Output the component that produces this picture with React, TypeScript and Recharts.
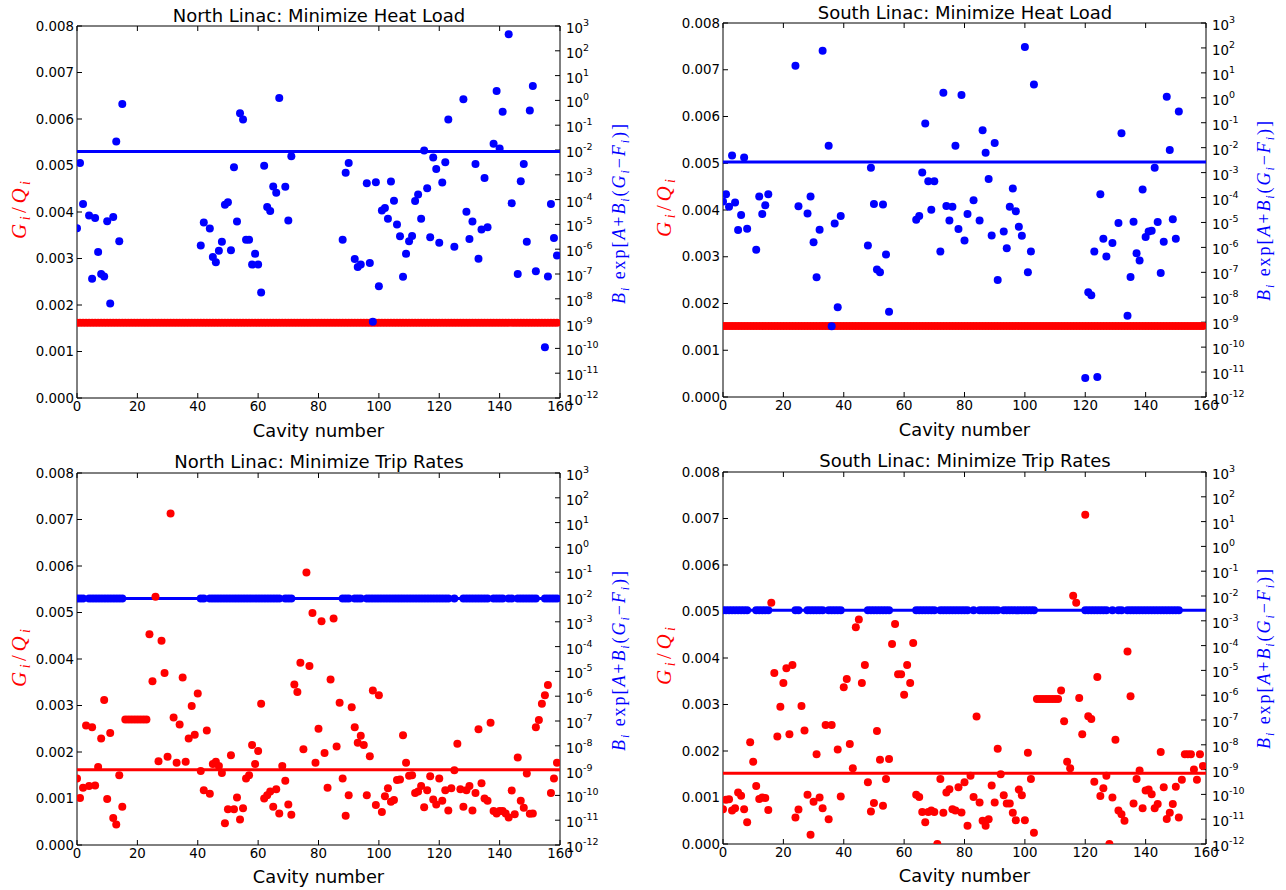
import React from 'react';
import { ComposedChart, Scatter, XAxis, YAxis } from 'recharts';

// ---------- categories & ticks ----------
const CAVITY = [
  0, 1, 2, 3, 4, 5, 6, 7, 8, 9, 10, 11, 12, 13, 14, 15, 16, 17, 18, 19,
  20, 21, 22, 23, 24, 25, 26, 27, 28, 29, 30, 31, 32, 33, 34, 35, 36, 37, 38, 39,
  40, 41, 42, 43, 44, 45, 46, 47, 48, 49, 50, 51, 52, 53, 54, 55, 56, 57, 58, 59,
  60, 61, 62, 63, 64, 65, 66, 67, 68, 69, 70, 71, 72, 73, 74, 75, 76, 77, 78, 79,
  80, 81, 82, 83, 84, 85, 86, 87, 88, 89, 90, 91, 92, 93, 94, 95, 96, 97, 98, 99,
  100, 101, 102, 103, 104, 105, 106, 107, 108, 109, 110, 111, 112, 113, 114, 115, 116, 117, 118, 119,
  120, 121, 122, 123, 124, 125, 126, 127, 128, 129, 130, 131, 132, 133, 134, 135, 136, 137, 138, 139,
  140, 141, 142, 143, 144, 145, 146, 147, 148, 149, 150, 151, 152, 153, 154, 155, 156, 157, 158, 159,
];
const X_TICKS = [0, 20, 40, 60, 80, 100, 120, 140, 160];
const GQ_TICKS = [0, 0.001, 0.002, 0.003, 0.004, 0.005, 0.006, 0.007, 0.008];
const LOG_TICKS = [1e-12, 1e-11, 1e-10, 1e-9, 1e-8, 1e-7, 1e-6, 1e-5, 1e-4, 1e-3, 1e-2, 1e-1, 1, 1e1, 1e2, 1e3];

// ---------- constants ----------
const NORTH_GQ = 0.00162;
const SOUTH_GQ = 0.00152;
const NORTH_THRESHOLD = 8.7e-3;
const SOUTH_THRESHOLD = 2.65e-3;

// ---------- North linac, minimize heat load (trip-rate term, right axis) ----------
const NORTH_HEAT_CAV = [
  0, 1, 2, 4, 5, 6, 7, 8, 9, 10, 11, 12, 13, 14, 15,
  41, 42, 44, 45, 46, 47, 48, 49, 50, 51, 52, 53, 54, 55, 56, 57, 58, 59, 60,
  61, 62, 63, 64, 65, 66, 67, 69, 70, 71,
  88, 89, 90, 92, 93, 94, 96, 97, 98, 99, 100, 101, 102, 103, 104, 105, 106, 107, 108, 109,
  110, 111, 112, 113, 114, 115, 116, 117, 118, 119, 120, 121, 122, 123, 125, 128, 129, 130, 131, 132,
  133, 134, 135, 136, 138, 139, 140, 141, 143, 144, 146, 147, 148, 149, 150, 151, 152, 155, 156, 157,
  158, 159,
];
const NORTH_HEAT_VAL = [
  7e-6, 3e-3, 6.6e-5, 2.3e-5, 6.5e-8, 1.8e-5, 7.7e-7, 1e-7, 8e-8, 1.35e-5, 6.4e-9, 2e-5, 2.2e-2, 2.1e-6, 0.72,
  1.4e-6, 1.2e-5, 6.9e-6, 4.8e-7, 3e-7, 8.7e-7, 2e-6, 6.2e-5, 7.8e-5, 9e-7, 2e-3, 1.3e-5, 0.3, 0.17, 2.4e-6, 2.4e-6, 2.4e-7, 6.5e-7, 2.4e-7,
  1.8e-8, 2.3e-3, 5e-5, 3.5e-5, 3.4e-4, 1.9e-4, 1.26, 3.3e-4, 1.45e-5, 5.6e-3,
  2.4e-6, 1.2e-3, 3e-3, 4e-7, 1.9e-7, 2.4e-7, 4.6e-4, 2.8e-7, 1.2e-9, 5e-4, 3.2e-8, 3.6e-5, 4.6e-5, 1.7e-5, 5.4e-4, 9e-5, 9.8e-6, 3.3e-6, 7.8e-8, 6.5e-7,
  2.1e-6, 3.4e-6, 8.7e-5, 1.6e-4, 1.7e-5, 9.5e-3, 2.9e-4, 3e-6, 5e-3, 1.7e-3, 1.8e-6, 4.9e-4, 3.2e-3, 0.17, 1.26e-6, 1.1, 3.2e-5, 2.6e-6, 1.3e-5, 2.7e-3,
  4.1e-7, 6.2e-6, 7.4e-4, 7.6e-6, 1.8e-2, 2.4, 1.15e-2, 0.35, 460, 7.2e-5, 1e-7, 5.5e-4, 2.7e-3, 2e-6, 0.39, 3.8, 1.3e-7, 1.1e-10, 8e-8, 6.7e-5,
  2.8e-6, 5.6e-7,
];

// ---------- South linac, minimize heat load ----------
const SOUTH_HEAT_CAV = [
  0, 1, 2, 3, 4, 5, 6, 7, 8, 11, 12, 13, 14, 15,
  24, 25, 28, 29, 30, 31, 32, 33, 35, 36, 37, 38, 39,
  48, 49, 50, 51, 52, 53, 54, 55,
  64, 65, 66, 67, 68, 69, 70, 72, 73, 74, 75, 76, 77, 78, 79, 80, 81, 83, 85, 86, 87, 88, 89, 90,
  91, 93, 94, 95, 96, 97, 98, 99, 100, 101, 102, 103,
  120, 121, 122, 123, 124, 125, 126, 127, 129, 131, 132, 134, 135, 136, 137, 138, 139, 140, 141, 142,
  143, 144, 145, 146, 147, 148, 149, 150, 151,
];
const SOUTH_HEAT_VAL = [
  6.9e-5, 1.35e-4, 4.3e-5, 4.8e-3, 6.3e-5, 5e-6, 2e-5, 4e-3, 5.6e-6, 8e-7, 1.1e-4, 2.2e-5, 4.9e-5, 1.35e-4,
  19.5, 4.5e-5, 2.3e-5, 1.1e-4, 1.6e-6, 6.3e-8, 5.1e-6, 77, 1.2e-2, 6.9e-10, 9e-6, 4e-9, 1.8e-5,
  1.2e-6, 1.55e-3, 5.5e-5, 1.3e-7, 1e-7, 5.2e-5, 5.2e-7, 2.6e-9,
  1.3e-5, 1.8e-5, 1e-3, 9.3e-2, 4.5e-4, 3.2e-5, 4.5e-4, 6.8e-7, 1.6, 4.6e-5, 1.2e-5, 4.3e-5, 1.2e-2, 5.5e-6, 1.3, 1.9e-6, 2.2e-5, 7.8e-5, 1.2e-5, 5e-2, 6.3e-3, 5.6e-4, 3e-6, 1.55e-2,
  4.9e-8, 4.3e-6, 9.3e-7, 4.3e-5, 2.3e-4, 2.8e-5, 6.8e-6, 2.9e-6, 110, 1e-7, 6.9e-7, 3.4,
  5.8e-12, 1.6e-8, 1.2e-8, 6.8e-7, 6.3e-12, 1.35e-4, 2.2e-6, 4.3e-7, 1.5e-6, 9.5e-6, 3.8e-2, 1.8e-9, 6.5e-8, 1.07e-5, 5.8e-7, 3e-7, 2.1e-4, 2.6e-6, 4.3e-6, 4.7e-6,
  1.55e-3, 1.05e-5, 9.5e-8, 1.7e-6, 1.1, 8.1e-3, 1.35e-5, 2.2e-6, 0.28,
];

// ---------- North linac, minimize trip rates (G/Q, left axis), one per cavity ----------
const NORTH_TRIP_GQ = [
  0.00143, 0.00101, 0.00123, 0.00257, 0.00127, 0.00253, 0.00128, 0.00168, 0.00229, 0.00312,
  0.00099, 0.00241, 0.00058, 0.00044, 0.00150, 0.00082, 0.00270, 0.00270, 0.00270, 0.00270,
  0.00270, 0.00270, 0.00270, 0.00270, 0.00453, 0.00352, 0.00534, 0.00180, 0.00439, 0.00370,
  0.00190, 0.00713, 0.00274, 0.00177, 0.00259, 0.00360, 0.00179, 0.00229, 0.00299, 0.00237,
  0.00326, 0.00159, 0.00118, 0.00246, 0.00110, 0.00174, 0.00179, 0.00170, 0.00155, 0.00047,
  0.00077, 0.00193, 0.00077, 0.00102, 0.00055, 0.00079, 0.00143, 0.00150, 0.00215, 0.00174,
  0.00202, 0.00304, 0.00100, 0.00107, 0.00115, 0.00082, 0.00120, 0.00068, 0.00170, 0.00138,
  0.00087, 0.00065, 0.00345, 0.00329, 0.00392, 0.00206, 0.00586, 0.00385, 0.00499, 0.00177,
  0.00250, 0.00481, 0.00198, 0.00123, 0.00356, 0.00487, 0.00212, 0.00306, 0.00143, 0.00063,
  0.00107, 0.00296, 0.00253, 0.00220, 0.00235, 0.00215, 0.00107, 0.00191, 0.00332, 0.00086,
  0.00322, 0.00071, 0.00105, 0.00122, 0.00093, 0.00097, 0.00140, 0.00141, 0.00236, 0.00177,
  0.00149, 0.00150, 0.00112, 0.00115, 0.00127, 0.00081, 0.00118, 0.00148, 0.00098, 0.00087,
  0.00143, 0.00095, 0.00118, 0.00074, 0.00122, 0.00161, 0.00218, 0.00120, 0.00082, 0.00118,
  0.00127, 0.00074, 0.00112, 0.00249, 0.00133, 0.00100, 0.00095, 0.00263, 0.00073, 0.00068,
  0.00073, 0.00073, 0.00068, 0.00059, 0.00117, 0.00066, 0.00188, 0.00095, 0.00080, 0.00154,
  0.00067, 0.00068, 0.00253, 0.00269, 0.00304, 0.00322, 0.00344, 0.00112, 0.00143, 0.00177,
];

// ---------- South linac, minimize trip rates (null = no marker visible) ----------
const SOUTH_TRIP_GQ = [
  0.00075, 0.00095, 0.00096, 0.00072, 0.00077, 0.00111, 0.00104, 0.00075, 0.00047, 0.00219,
  0.00177, 0.00125, 0.00097, 0.00100, 0.00099, 0.00073, 0.00519, 0.00368, 0.00231, 0.00295,
  0.00346, 0.00378, 0.00236, 0.00385, 0.00057, 0.00074, 0.00297, 0.00244, 0.00106, 0.00020,
  0.00091, 0.00193, 0.00100, 0.00077, 0.00256, 0.00053, 0.00256, null, 0.00203, 0.00102,
  0.00337, 0.00355, 0.00215, 0.00163, 0.00466, 0.00483, 0.00346, 0.00385, 0.00133, 0.00070,
  0.00088, 0.00243, 0.00181, 0.00082, 0.00140, 0.00183, 0.00430, 0.00473, 0.00365, 0.00365,
  0.00321, 0.00385, 0.00346, 0.00432, 0.00106, 0.00101, 0.00069, 0.00047, 0.00069, 0.00072,
  0.00069, 0.00000, 0.00140, 0.00067, 0.00111, 0.00118, 0.00075, 0.00072, 0.00122, 0.00068,
  0.00133, 0.00039, 0.00147, 0.00101, 0.00274, 0.00089, 0.00050, 0.00039, 0.00053, 0.00126,
  0.00089, 0.00205, 0.00150, 0.00105, 0.00087, 0.00087, 0.00067, 0.00051, 0.00117, 0.00105,
  0.00051, 0.00196, 0.00140, 0.00024, 0.00312, 0.00312, 0.00312, 0.00312, 0.00312, 0.00312,
  0.00312, 0.00312, 0.00330, 0.00264, 0.00177, 0.00163, 0.00534, 0.00519, 0.00314, 0.00236,
  0.00708, 0.00275, 0.00269, 0.00134, 0.00359, 0.00103, 0.00120, 0.00147, 0.00000, 0.00100,
  0.00224, 0.00072, 0.00064, 0.00050, 0.00414, 0.00318, 0.00087, 0.00140, 0.00158, 0.00077,
  0.00115, 0.00117, 0.00107, 0.00077, 0.00086, 0.00198, 0.00122, 0.00054, 0.00067, 0.00086,
  0.00123, 0.00057, 0.00138, 0.00193, 0.00193, 0.00193, 0.00160, 0.00138, 0.00193, 0.00168,
];

// ---------- styling ----------
const BLUE = '#0000ff';
const RED = '#ff0000';
const SANS = 'DejaVu Sans, sans-serif';
const SERIF = 'Liberation Serif, DejaVu Serif, serif';
const TICK_FS = 13.33;
const R = 4;

const dot = (color: string) => (p: any) =>
  p.cx == null || p.cy == null ? <g /> : <circle cx={p.cx} cy={p.cy} r={R} fill={color} />;
const noDot = () => <g />;

const LogTick = (props: any) => {
  const { x, y, payload } = props;
  const e = Math.round(Math.log10(payload.value));
  return (
    <text x={x} y={y} dy={7} fill="#000" fontSize={TICK_FS} fontFamily={SANS} textAnchor="start">
      10
      <tspan dy={-7} fontSize={9.5}>{String(e)}</tspan>
    </text>
  );
};

type PanelProps = {
  left: number;
  top: number;
  mt: number;
  mb: number;
  lw: number;
  rw: number;
  kind: 'heat' | 'trip';
  gq: number;
  threshold: number;
  blueCav: number[];
  blueVal?: number[];
  trip?: (number | null)[];
};

const W = 643;
const H = 445;

function Panel(p: PanelProps) {
  const lineX = [0, 160];
  const redBand = CAVITY.map((c) => ({ c, v: p.gq }));
  const blueBand = p.blueCav.map((c) => ({ c, v: p.threshold }));
  const blueLine = lineX.map((c) => ({ c, v: p.threshold }));
  const redLine = lineX.map((c) => ({ c, v: p.gq }));
  const bluePts = p.blueVal ? p.blueCav.map((c, i) => ({ c, v: p.blueVal![i] })) : [];
  const redPts = p.trip
    ? CAVITY.map((c, i) => ({ c, v: p.trip![i] })).filter((d) => d.v != null)
    : [];

  return (
    <div style={{ position: 'absolute', left: p.left, top: p.top, width: W, height: H }}>
      <ComposedChart width={W} height={H} margin={{ top: p.mt, right: 0, bottom: p.mb, left: 0 }}>
        <XAxis
          xAxisId="b"
          dataKey="c"
          type="number"
          domain={[0, 160]}
          ticks={X_TICKS}
          interval={0}
          allowDataOverflow
          height={30}
          tickSize={-5}
          tickMargin={9}
          axisLine={{ stroke: '#000' }}
          tickLine={{ stroke: '#000' }}
          tick={{ fill: '#000', fontSize: TICK_FS, fontFamily: SANS }}
        />
        <XAxis
          xAxisId="t"
          orientation="top"
          dataKey="c"
          type="number"
          domain={[0, 160]}
          ticks={X_TICKS}
          interval={0}
          allowDataOverflow
          height={1}
          tickSize={-5}
          tickFormatter={() => ''}
          axisLine={{ stroke: '#000' }}
          tickLine={{ stroke: '#000' }}
        />
        <YAxis
          yAxisId="l"
          dataKey="v"
          type="number"
          domain={[0, 0.008]}
          ticks={GQ_TICKS}
          interval={0}
          allowDataOverflow
          width={p.lw}
          tickSize={-5}
          tickMargin={8}
          tickFormatter={(v: number) => v.toFixed(3)}
          axisLine={{ stroke: '#000' }}
          tickLine={{ stroke: '#000' }}
          tick={{ fill: '#000', fontSize: TICK_FS, fontFamily: SANS }}
        />
        <YAxis
          yAxisId="r"
          orientation="right"
          dataKey="v"
          type="number"
          scale="log"
          domain={[1e-12, 1e3]}
          ticks={LOG_TICKS}
          interval={0}
          allowDataOverflow
          width={p.rw}
          tickSize={-5}
          tickMargin={11}
          axisLine={{ stroke: '#000' }}
          tickLine={{ stroke: '#000' }}
          tick={LogTick}
        />
        {p.kind === 'heat' ? (
          <>
            <Scatter data={redBand} xAxisId="b" yAxisId="l" shape={dot(RED)} isAnimationActive={false} />
            <Scatter
              data={blueLine}
              xAxisId="b"
              yAxisId="r"
              shape={noDot}
              line={{ stroke: BLUE, strokeWidth: 3 }}
              isAnimationActive={false}
            />
            <Scatter data={bluePts} xAxisId="b" yAxisId="r" shape={dot(BLUE)} isAnimationActive={false} />
          </>
        ) : (
          <>
            <Scatter data={blueBand} xAxisId="b" yAxisId="r" shape={dot(BLUE)} isAnimationActive={false} />
            <Scatter
              data={blueLine}
              xAxisId="b"
              yAxisId="r"
              shape={noDot}
              line={{ stroke: BLUE, strokeWidth: 3 }}
              isAnimationActive={false}
            />
            <Scatter
              data={redLine}
              xAxisId="b"
              yAxisId="l"
              shape={noDot}
              line={{ stroke: RED, strokeWidth: 3 }}
              isAnimationActive={false}
            />
            <Scatter data={redPts} xAxisId="b" yAxisId="l" shape={dot(RED)} isAnimationActive={false} />
          </>
        )}
      </ComposedChart>
    </div>
  );
}

function LeftLabel({ x, y }: { x: number; y: number }) {
  return (
    <text
      transform={`translate(${x},${y}) rotate(-90)`}
      textAnchor="middle"
      fill={RED}
      fontFamily={SERIF}
      fontSize={21}
      fontStyle="italic"
      textLength={58}
      lengthAdjust="spacing"
    >
      <tspan>G</tspan>
      <tspan dy={4} fontSize={14}>i</tspan>
      <tspan dy={-4} fontStyle="normal">/</tspan>
      <tspan>Q</tspan>
      <tspan dy={4} fontSize={14}>i</tspan>
    </text>
  );
}

function RightLabel({ x, y }: { x: number; y: number }) {
  return (
    <text
      transform={`translate(${x},${y}) rotate(-90)`}
      textAnchor="middle"
      fill={BLUE}
      fontFamily={SERIF}
      fontSize={18}
      textLength={180}
      lengthAdjust="spacing"
    >
      <tspan fontStyle="italic">B</tspan>
      <tspan dy={4} fontSize={12} fontStyle="italic">i</tspan>
      <tspan dy={-4}> exp[</tspan>
      <tspan fontStyle="italic">A</tspan>
      <tspan>+</tspan>
      <tspan fontStyle="italic">B</tspan>
      <tspan dy={4} fontSize={12} fontStyle="italic">i</tspan>
      <tspan dy={-4}>(</tspan>
      <tspan fontStyle="italic">G</tspan>
      <tspan dy={4} fontSize={12} fontStyle="italic">i</tspan>
      <tspan dy={-4}>−</tspan>
      <tspan fontStyle="italic">F</tspan>
      <tspan dy={4} fontSize={12} fontStyle="italic">i</tspan>
      <tspan dy={-4}>)]</tspan>
    </text>
  );
}

function Overlay() {
  const titles = [
    { t: 'North Linac: Minimize Heat Load', x: 319, y: 21.5 },
    { t: 'South Linac: Minimize Heat Load', x: 965, y: 18.5 },
    { t: 'North Linac: Minimize Trip Rates', x: 319, y: 468 },
    { t: 'South Linac: Minimize Trip Rates', x: 965, y: 467 },
  ];
  const xl = [
    { x: 318.5, y: 437 },
    { x: 964.5, y: 436 },
    { x: 318.5, y: 883 },
    { x: 964.5, y: 882 },
  ];
  return (
    <svg
      width={1286}
      height={890}
      style={{ position: 'absolute', left: 0, top: 0, pointerEvents: 'none' }}
    >
      {titles.map((d) => (
        <text key={d.t} x={d.x} y={d.y} textAnchor="middle" fontFamily={SANS} fontSize={18} fill="#000">
          {d.t}
        </text>
      ))}
      {xl.map((d, i) => (
        <text key={i} x={d.x} y={d.y} textAnchor="middle" fontFamily={SANS} fontSize={17.8} fill="#000">
          Cavity number
        </text>
      ))}
      <LeftLabel x={26} y={210} />
      <LeftLabel x={671} y={208} />
      <LeftLabel x={26} y={658} />
      <LeftLabel x={671} y={656} />
      <RightLabel x={625} y={214} />
      <RightLabel x={1270} y={211} />
      <RightLabel x={625} y={661} />
      <RightLabel x={1270} y={659} />
    </svg>
  );
}

export default function App() {
  return (
    <div style={{ position: 'absolute', left: 0, top: 0, width: 1286, height: 890, background: '#fff' }}>
      <Panel left={0} top={0} mt={25} mb={17} lw={77} rw={83} kind="heat" gq={NORTH_GQ}
        threshold={NORTH_THRESHOLD} blueCav={NORTH_HEAT_CAV} blueVal={NORTH_HEAT_VAL} />
      <Panel left={643} top={0} mt={22} mb={18} lw={80} rw={80} kind="heat" gq={SOUTH_GQ}
        threshold={SOUTH_THRESHOLD} blueCav={SOUTH_HEAT_CAV} blueVal={SOUTH_HEAT_VAL} />
      <Panel left={0} top={445} mt={27} mb={15} lw={77} rw={83} kind="trip" gq={NORTH_GQ}
        threshold={NORTH_THRESHOLD} blueCav={NORTH_HEAT_CAV} trip={NORTH_TRIP_GQ} />
      <Panel left={643} top={445} mt={26} mb={16} lw={80} rw={80} kind="trip" gq={SOUTH_GQ}
        threshold={SOUTH_THRESHOLD} blueCav={SOUTH_HEAT_CAV} trip={SOUTH_TRIP_GQ} />
      <Overlay />
    </div>
  );
}
